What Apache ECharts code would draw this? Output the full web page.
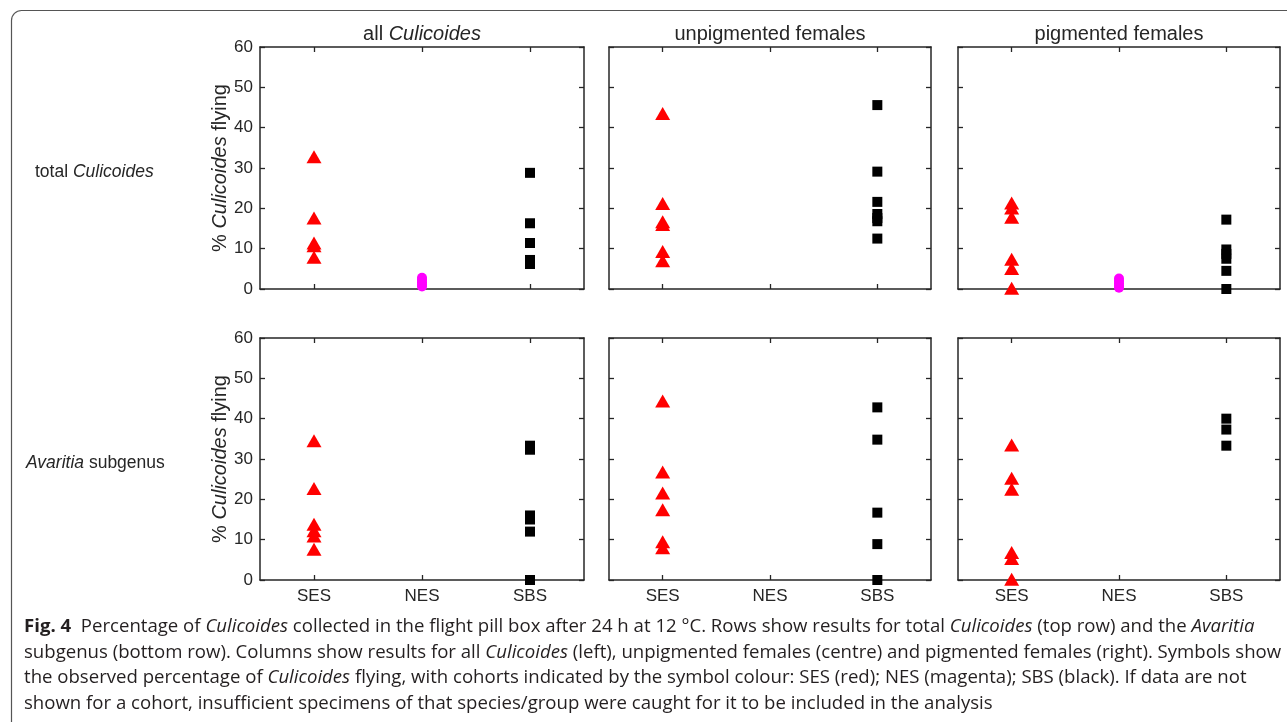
<!DOCTYPE html>
<html>
<head>
<meta charset="utf-8">
<script src="https://cdn.jsdelivr.net/npm/echarts@6/dist/echarts.min.js"></script>
<style>
  html, body { margin: 0; padding: 0; background: #fff; }
  #main { width: 1287px; height: 722px; }
</style>
</head>
<body>
<div id="main"></div>
<script>
// cohorts on the x axis, y axis ticks
const cohorts = ['SES', 'NES', 'SBS'];
const yMin = 0, yMax = 60, yStep = 10;

// top row: total Culicoides (% flying)
const totalAllSES = [32.8, 17.6, 11.4, 10.7, 7.9];
const totalAllNES = [0.6, 1.1, 1.7, 2.3, 2.8];
const totalAllSBS = [28.8, 16.3, 11.4, 7.2, 6.2];
const totalUnpigSES = [43.5, 21.2, 16.7, 16.0, 9.3, 7.0];
const totalUnpigNES = [];
const totalUnpigSBS = [45.6, 29.1, 21.6, 18.6, 17.6, 16.8, 12.5];
const totalPigSES = [21.3, 20.1, 17.8, 7.4, 5.1, 0.2];
const totalPigNES = [0.3, 0.8, 1.4, 2.0, 2.6];
const totalPigSBS = [17.2, 9.8, 8.7, 7.5, 4.5, 0];

// bottom row: Avaritia subgenus (% flying)
const avarAllSES = [34.5, 22.7, 13.8, 12.2, 10.9, 7.6];
const avarAllNES = [];
const avarAllSBS = [33.3, 32.3, 16.0, 15.0, 12.0, 0];
const avarUnpigSES = [44.4, 26.8, 21.6, 17.4, 9.5, 8.0];
const avarUnpigNES = [];
const avarUnpigSBS = [42.8, 34.8, 16.7, 8.9, 0];
const avarPigSES = [33.5, 25.2, 22.5, 6.8, 5.3, 0.2];
const avarPigNES = [];
const avarPigSBS = [40.0, 37.3, 33.3];

const colTitles = ['all {i|Culicoides}', 'unpigmented females', 'pigmented females'];
const rowTitles = ['total {i|Culicoides}', '{i|Avaritia} subgenus'];

const panels = [
  [totalAllSES, totalAllNES, totalAllSBS],
  [totalUnpigSES, totalUnpigNES, totalUnpigSBS],
  [totalPigSES, totalPigNES, totalPigSBS],
  [avarAllSES, avarAllNES, avarAllSBS],
  [avarUnpigSES, avarUnpigNES, avarUnpigSBS],
  [avarPigSES, avarPigNES, avarPigSBS]
];

const captionLines = [
  '{b|Fig. 4}  Percentage of {i|Culicoides} collected in the flight pill box after 24 h at 12 °C. Rows show results for total {i|Culicoides} (top row) and the {i|Avaritia}',
  'subgenus (bottom row). Columns show results for all {i|Culicoides} (left), unpigmented females (centre) and pigmented females (right). Symbols show',
  'the observed percentage of {i|Culicoides} flying, with cohorts indicated by the symbol colour: SES (red); NES (magenta); SBS (black). If data are not',
  'shown for a cohort, insufficient specimens of that species/group were caught for it to be included in the analysis'
];

const colLeft = [260, 609, 958];
const colWidth = [324, 322, 322];
const rowTop = [47, 338];
const rowHeight = 242;
const axisColor = '#262626';
const plotFont = 'Liberation Sans, Arial, sans-serif';
const capFont = 'Open Sans, sans-serif';
const capSize = 18.6;

const markers = [
  { symbol: 'triangle', size: [15, 13], color: '#ff0000' },
  { symbol: 'circle', size: 10, color: '#ff00ff' },
  { symbol: 'rect', size: 10, color: '#000000' }
];

const chart = echarts.init(document.getElementById('main'));

const grid = [], xAxis = [], yAxis = [], series = [];
panels.forEach(function (p, i) {
  const col = i % 3, row = Math.floor(i / 3);
  grid.push({ left: colLeft[col], top: rowTop[row], width: colWidth[col], height: rowHeight });
  const tick = { show: true, inside: true, length: 5, alignWithLabel: true, lineStyle: { color: axisColor, width: 1.3 } };
  const line = { show: true, onZero: false, lineStyle: { color: axisColor, width: 1.5 } };
  // bottom and top x axes
  xAxis.push({
    gridIndex: i, type: 'category', data: cohorts, position: 'bottom',
    axisLine: line, axisTick: tick,
    axisLabel: { show: row === 1, fontSize: 17, color: axisColor, fontFamily: plotFont, margin: 8 },
    splitLine: { show: false }
  });
  xAxis.push({
    gridIndex: i, type: 'category', data: cohorts, position: 'top',
    axisLine: line, axisTick: tick, axisLabel: { show: false }, splitLine: { show: false }
  });
  // left and right y axes
  yAxis.push({
    gridIndex: i, type: 'value', min: yMin, max: yMax, interval: yStep, position: 'left',
    axisLine: line, axisTick: { show: true, inside: true, length: 5, lineStyle: { color: axisColor, width: 1.3 } },
    axisLabel: { show: col === 0, fontSize: 17, color: axisColor, fontFamily: plotFont, margin: 7 },
    splitLine: { show: false },
    name: col === 0 ? '% {i|Culicoides} flying' : '',
    nameLocation: 'middle', nameRotate: 90, nameGap: 30,
    nameTextStyle: {
      fontSize: 20, color: axisColor, fontFamily: plotFont,
      rich: { i: { fontStyle: 'italic', fontSize: 20, color: axisColor, fontFamily: plotFont } }
    }
  });
  yAxis.push({
    gridIndex: i, type: 'value', min: yMin, max: yMax, interval: yStep, position: 'right',
    axisLine: line, axisTick: { show: true, inside: true, length: 5, lineStyle: { color: axisColor, width: 1.3 } },
    axisLabel: { show: false }, splitLine: { show: false }
  });
  p.forEach(function (vals, k) {
    series.push({
      type: 'scatter', name: cohorts[k],
      xAxisIndex: 2 * i, yAxisIndex: 2 * i,
      symbol: markers[k].symbol, symbolSize: markers[k].size,
      itemStyle: { color: markers[k].color, opacity: 1 },
      emphasis: { disabled: true },
      data: vals.map(function (v) { return [cohorts[k], v]; })
    });
  });
});

const graphic = [];
// outer frame
graphic.push({
  type: 'rect', shape: { x: 11.5, y: 10.5, width: 1300, height: 800, r: 10 },
  style: { fill: 'none', stroke: '#555', lineWidth: 1.2 }, z: -1
});
colTitles.forEach(function (t, c) {
  graphic.push({
    type: 'text', x: colLeft[c] + colWidth[c] / 2, y: 34,
    style: {
      text: t, align: 'center', verticalAlign: 'middle',
      fontSize: 20, fontFamily: plotFont, fill: axisColor,
      rich: { i: { fontStyle: 'italic', fontSize: 20, fontFamily: plotFont, fill: axisColor } }
    }
  });
});
const rowLabelX = [35, 26], rowLabelY = [172, 463];
rowTitles.forEach(function (t, r) {
  graphic.push({
    type: 'text', x: rowLabelX[r], y: rowLabelY[r],
    style: {
      text: t, align: 'left', verticalAlign: 'middle',
      fontSize: 17.5, fontFamily: plotFont, fill: axisColor,
      rich: { i: { fontStyle: 'italic', fontSize: 17.5, fontFamily: plotFont, fill: axisColor } }
    }
  });
});
captionLines.forEach(function (t, n) {
  graphic.push({
    type: 'text', x: 24, y: 627 + n * 25.5,
    style: {
      text: t, align: 'left', verticalAlign: 'middle',
      fontSize: capSize, fontFamily: capFont, fill: '#231f20',
      rich: {
        b: { fontWeight: 'bold', fontSize: capSize, fontFamily: capFont, fill: '#231f20' },
        i: { fontStyle: 'italic', fontSize: capSize, fontFamily: capFont, fill: '#231f20' }
      }
    }
  });
});

chart.setOption({
  backgroundColor: '#ffffff',
  animation: false,
  grid: grid,
  xAxis: xAxis,
  yAxis: yAxis,
  series: series,
  graphic: graphic
});
</script>
</body>
</html>
